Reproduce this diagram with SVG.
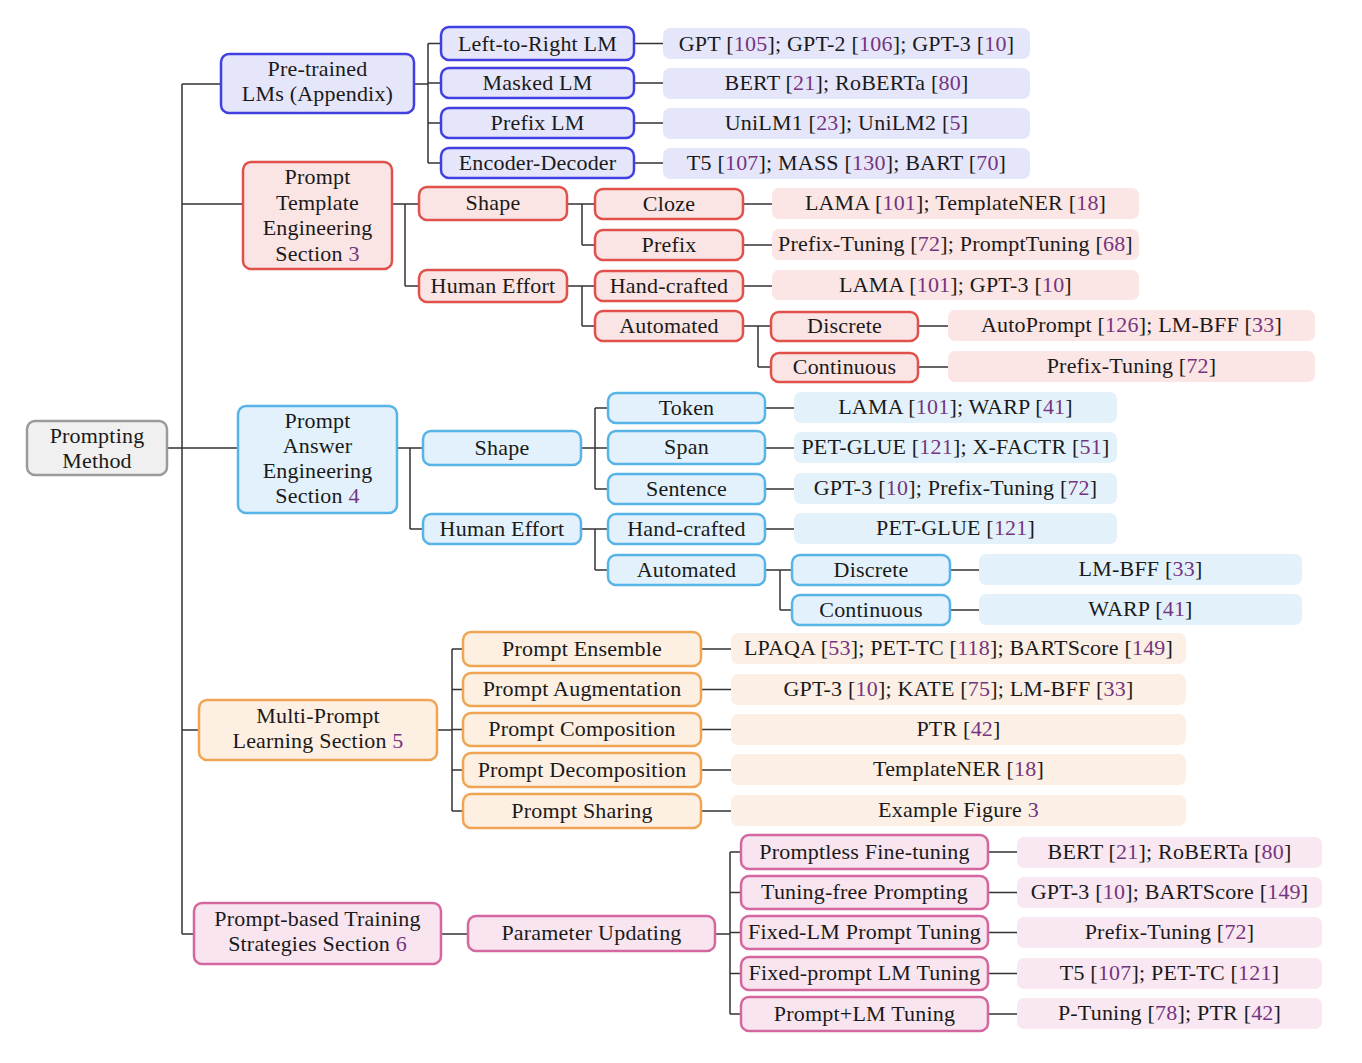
<svg xmlns="http://www.w3.org/2000/svg" width="1362" height="1063" viewBox="0 0 1362 1063">
  <style>
    text { font-family: "Liberation Serif", "DejaVu Serif", serif; font-size: 22px; letter-spacing: 0.2px; fill: #1a1a1a; text-anchor: middle; }
    .c { fill: #74357f; }
    .n { stroke-width: 2.5; }
    .gray { fill: #f0f0f0; stroke: #9a9a9a; }
    .pl { fill: #e6e6fa; stroke: #4040e0; }
    .pll { fill: #e6e6fa; }
    .te { fill: #fbe4e4; stroke: #e0514b; }
    .tel { fill: #fbe5e5; }
    .ae { fill: #e2f1fb; stroke: #58b4e6; }
    .ael { fill: #e3f1fb; }
    .mp { fill: #fdefe2; stroke: #f0a554; }
    .mpl { fill: #fcefe5; }
    .tr { fill: #f9e5f0; stroke: #d4679e; }
    .trl { fill: #f9e7f1; }
    .edges path { fill: none; stroke: #333; stroke-width: 1.5; }
  </style>

  <!-- tree connectors -->
  <g id="connectors" class="edges">
    <path d="M167 448H182M182 84V934M182 84H221M182 204H243M182 448H238M182 730H199M182 934H194"/>
    <!-- pre-trained LMs -->
    <path d="M414 84H428M428 43.5V163M428 43.5H441M428 83H441M428 123H441M428 163H441"/>
    <path d="M634 43.5H663M634 83H663M634 123H663M634 163H663"/>
    <!-- template engineering -->
    <path d="M392 204H405M405 204V286M405 204H419M405 286H419"/>
    <path d="M567 204H582M582 204V245M582 204H595M582 245H595"/>
    <path d="M567 286H582M582 286V326M582 286H595M582 326H595"/>
    <path d="M743 326H758M758 326V367M758 326H771M758 367H771"/>
    <path d="M743 204H772M743 245H772M743 286H772M918 326H948M918 367H948"/>
    <!-- answer engineering -->
    <path d="M397 448H410M410 448V529M410 448H423M410 529H423"/>
    <path d="M581 448H595M595 408V489M595 408H608M595 448H608M595 489H608"/>
    <path d="M581 529H595M595 529V570M595 529H608M595 570H608"/>
    <path d="M765 570H780M780 570V610M780 570H792M780 610H792"/>
    <path d="M765 408H794M765 448H794M765 489H794M765 529H794M950 570H979M950 610H979"/>
    <!-- multi-prompt learning -->
    <path d="M437 730H452M452 649V811M452 649H463M452 689.5H463M452 729.5H463M452 770H463M452 811H463"/>
    <path d="M701 649H731M701 689.5H731M701 729.5H731M701 770H731M701 811H731"/>
    <!-- training strategies -->
    <path d="M441 934H468M715 934H730M730 852V1014M730 852H741M730 892.5H741M730 932.5H741M730 973.5H741M730 1014H741"/>
    <path d="M988 852H1017M988 892.5H1017M988 932.5H1017M988 973.5H1017M988 1014H1017"/>
  </g>

  <!-- root -->
  <g id="root">
    <rect class="n gray" x="27" y="421" width="140" height="54" rx="8"/>
    <text x="97" y="443">Prompting</text>
    <text x="97" y="468">Method</text>
  </g>

  <!-- pre-trained LMs -->
  <g id="pretrained">
    <rect class="n pl" x="221" y="54" width="193" height="59" rx="8"/>
    <text x="317.5" y="76">Pre-trained</text>
    <text x="317.5" y="101">LMs (Appendix)</text>
  </g>
  <g id="l2r"><rect class="n pl" x="441" y="27" width="193" height="33" rx="8"/><text x="537.5" y="51">Left-to-Right LM</text></g>
  <g id="masked"><rect class="n pl" x="441" y="68" width="193" height="30" rx="8"/><text x="537.5" y="90">Masked LM</text></g>
  <g id="prefixlm"><rect class="n pl" x="441" y="108" width="193" height="30" rx="8"/><text x="537.5" y="130">Prefix LM</text></g>
  <g id="encdec"><rect class="n pl" x="441" y="148" width="193" height="30" rx="8"/><text x="537.5" y="170">Encoder-Decoder</text></g>
  <g id="l2r-refs"><rect class="pll" x="663" y="28" width="367" height="31" rx="7"/><text x="846.5" y="51">GPT [<tspan class="c">105</tspan>]; GPT-2 [<tspan class="c">106</tspan>]; GPT-3 [<tspan class="c">10</tspan>]</text></g>
  <g id="masked-refs"><rect class="pll" x="663" y="68" width="367" height="31" rx="7"/><text x="846.5" y="90">BERT [<tspan class="c">21</tspan>]; RoBERTa [<tspan class="c">80</tspan>]</text></g>
  <g id="prefixlm-refs"><rect class="pll" x="663" y="108" width="367" height="31" rx="7"/><text x="846.5" y="130">UniLM1 [<tspan class="c">23</tspan>]; UniLM2 [<tspan class="c">5</tspan>]</text></g>
  <g id="encdec-refs"><rect class="pll" x="663" y="148" width="367" height="31" rx="7"/><text x="846.5" y="170">T5 [<tspan class="c">107</tspan>]; MASS [<tspan class="c">130</tspan>]; BART [<tspan class="c">70</tspan>]</text></g>

  <!-- prompt template engineering -->
  <g id="template">
    <rect class="n te" x="243" y="162" width="149" height="107" rx="8"/>
    <text x="317.5" y="184">Prompt</text>
    <text x="317.5" y="209.5">Template</text>
    <text x="317.5" y="235">Engineering</text>
    <text x="317.5" y="260.5">Section <tspan class="c">3</tspan></text>
  </g>
  <g id="t-shape"><rect class="n te" x="419" y="187" width="148" height="33" rx="8"/><text x="493" y="210">Shape</text></g>
  <g id="t-human"><rect class="n te" x="419" y="270" width="148" height="32" rx="8"/><text x="493" y="293">Human Effort</text></g>
  <g id="t-cloze"><rect class="n te" x="595" y="189" width="148" height="30" rx="8"/><text x="669" y="211">Cloze</text></g>
  <g id="t-prefix"><rect class="n te" x="595" y="230" width="148" height="30" rx="8"/><text x="669" y="252">Prefix</text></g>
  <g id="t-hand"><rect class="n te" x="595" y="271" width="148" height="30" rx="8"/><text x="669" y="293">Hand-crafted</text></g>
  <g id="t-auto"><rect class="n te" x="595" y="311" width="148" height="30" rx="8"/><text x="669" y="333">Automated</text></g>
  <g id="t-discrete"><rect class="n te" x="771" y="312" width="147" height="29" rx="8"/><text x="844.5" y="333">Discrete</text></g>
  <g id="t-cont"><rect class="n te" x="771" y="353" width="147" height="29" rx="8"/><text x="844.5" y="374">Continuous</text></g>
  <g id="t-cloze-refs"><rect class="tel" x="772" y="188" width="367" height="31" rx="7"/><text x="955.5" y="210">LAMA [<tspan class="c">101</tspan>]; TemplateNER [<tspan class="c">18</tspan>]</text></g>
  <g id="t-prefix-refs"><rect class="tel" x="772" y="229" width="367" height="31" rx="7"/><text x="955.5" y="251">Prefix-Tuning [<tspan class="c">72</tspan>]; PromptTuning [<tspan class="c">68</tspan>]</text></g>
  <g id="t-hand-refs"><rect class="tel" x="772" y="270" width="367" height="30" rx="7"/><text x="955.5" y="292">LAMA [<tspan class="c">101</tspan>]; GPT-3 [<tspan class="c">10</tspan>]</text></g>
  <g id="t-discrete-refs"><rect class="tel" x="948" y="310" width="367" height="31" rx="7"/><text x="1131.5" y="332">AutoPrompt [<tspan class="c">126</tspan>]; LM-BFF [<tspan class="c">33</tspan>]</text></g>
  <g id="t-cont-refs"><rect class="tel" x="948" y="351" width="367" height="31" rx="7"/><text x="1131.5" y="373">Prefix-Tuning [<tspan class="c">72</tspan>]</text></g>

  <!-- prompt answer engineering -->
  <g id="answer">
    <rect class="n ae" x="238" y="406" width="159" height="107" rx="8"/>
    <text x="317.5" y="428">Prompt</text>
    <text x="317.5" y="453">Answer</text>
    <text x="317.5" y="478">Engineering</text>
    <text x="317.5" y="503">Section <tspan class="c">4</tspan></text>
  </g>
  <g id="a-shape"><rect class="n ae" x="423" y="431" width="158" height="34" rx="8"/><text x="502" y="455">Shape</text></g>
  <g id="a-human"><rect class="n ae" x="423" y="514" width="158" height="30" rx="8"/><text x="502" y="536">Human Effort</text></g>
  <g id="a-token"><rect class="n ae" x="608" y="393" width="157" height="30" rx="8"/><text x="686.5" y="415">Token</text></g>
  <g id="a-span"><rect class="n ae" x="608" y="431" width="157" height="33" rx="8"/><text x="686.5" y="454">Span</text></g>
  <g id="a-sentence"><rect class="n ae" x="608" y="474" width="157" height="30" rx="8"/><text x="686.5" y="496">Sentence</text></g>
  <g id="a-hand"><rect class="n ae" x="608" y="514" width="157" height="30" rx="8"/><text x="686.5" y="536">Hand-crafted</text></g>
  <g id="a-auto"><rect class="n ae" x="608" y="555" width="157" height="30" rx="8"/><text x="686.5" y="577">Automated</text></g>
  <g id="a-discrete"><rect class="n ae" x="792" y="555" width="158" height="30" rx="8"/><text x="871" y="577">Discrete</text></g>
  <g id="a-cont"><rect class="n ae" x="792" y="595" width="158" height="30" rx="8"/><text x="871" y="617">Continuous</text></g>
  <g id="a-token-refs"><rect class="ael" x="794" y="392" width="323" height="31" rx="7"/><text x="955.5" y="414">LAMA [<tspan class="c">101</tspan>]; WARP [<tspan class="c">41</tspan>]</text></g>
  <g id="a-span-refs"><rect class="ael" x="794" y="432" width="323" height="31" rx="7"/><text x="955.5" y="454">PET-GLUE [<tspan class="c">121</tspan>]; X-FACTR [<tspan class="c">51</tspan>]</text></g>
  <g id="a-sentence-refs"><rect class="ael" x="794" y="473" width="323" height="31" rx="7"/><text x="955.5" y="495">GPT-3 [<tspan class="c">10</tspan>]; Prefix-Tuning [<tspan class="c">72</tspan>]</text></g>
  <g id="a-hand-refs"><rect class="ael" x="794" y="513" width="323" height="31" rx="7"/><text x="955.5" y="535">PET-GLUE [<tspan class="c">121</tspan>]</text></g>
  <g id="a-discrete-refs"><rect class="ael" x="979" y="554" width="323" height="31" rx="7"/><text x="1140.5" y="576">LM-BFF [<tspan class="c">33</tspan>]</text></g>
  <g id="a-cont-refs"><rect class="ael" x="979" y="594" width="323" height="31" rx="7"/><text x="1140.5" y="616">WARP [<tspan class="c">41</tspan>]</text></g>

  <!-- multi-prompt learning -->
  <g id="multi">
    <rect class="n mp" x="199" y="700" width="238" height="60" rx="8"/>
    <text x="318" y="723">Multi-Prompt</text>
    <text x="318" y="748">Learning Section <tspan class="c">5</tspan></text>
  </g>
  <g id="m-ensemble"><rect class="n mp" x="463" y="632" width="238" height="34" rx="8"/><text x="582" y="656">Prompt Ensemble</text></g>
  <g id="m-aug"><rect class="n mp" x="463" y="673" width="238" height="33" rx="8"/><text x="582" y="696">Prompt Augmentation</text></g>
  <g id="m-comp"><rect class="n mp" x="463" y="713" width="238" height="33" rx="8"/><text x="582" y="736">Prompt Composition</text></g>
  <g id="m-decomp"><rect class="n mp" x="463" y="753" width="238" height="34" rx="8"/><text x="582" y="777">Prompt Decomposition</text></g>
  <g id="m-share"><rect class="n mp" x="463" y="794" width="238" height="34" rx="8"/><text x="582" y="818">Prompt Sharing</text></g>
  <g id="m-ensemble-refs"><rect class="mpl" x="731" y="633" width="455" height="31" rx="7"/><text x="958.5" y="655">LPAQA [<tspan class="c">53</tspan>]; PET-TC [<tspan class="c">118</tspan>]; BARTScore [<tspan class="c">149</tspan>]</text></g>
  <g id="m-aug-refs"><rect class="mpl" x="731" y="674" width="455" height="31" rx="7"/><text x="958.5" y="696">GPT-3 [<tspan class="c">10</tspan>]; KATE [<tspan class="c">75</tspan>]; LM-BFF [<tspan class="c">33</tspan>]</text></g>
  <g id="m-comp-refs"><rect class="mpl" x="731" y="714" width="455" height="31" rx="7"/><text x="958.5" y="736">PTR [<tspan class="c">42</tspan>]</text></g>
  <g id="m-decomp-refs"><rect class="mpl" x="731" y="754" width="455" height="31" rx="7"/><text x="958.5" y="776">TemplateNER [<tspan class="c">18</tspan>]</text></g>
  <g id="m-share-refs"><rect class="mpl" x="731" y="795" width="455" height="31" rx="7"/><text x="958.5" y="817">Example Figure <tspan class="c">3</tspan></text></g>

  <!-- prompt-based training strategies -->
  <g id="training">
    <rect class="n tr" x="194" y="903" width="247" height="61" rx="8"/>
    <text x="317.5" y="926">Prompt-based Training</text>
    <text x="317.5" y="951">Strategies Section <tspan class="c">6</tspan></text>
  </g>
  <g id="p-update"><rect class="n tr" x="468" y="916" width="247" height="35" rx="8"/><text x="591.5" y="940">Parameter Updating</text></g>
  <g id="p-promptless"><rect class="n tr" x="741" y="835" width="247" height="34" rx="8"/><text x="864.5" y="859">Promptless Fine-tuning</text></g>
  <g id="p-free"><rect class="n tr" x="741" y="876" width="247" height="33" rx="8"/><text x="864.5" y="899">Tuning-free Prompting</text></g>
  <g id="p-fixedlm"><rect class="n tr" x="741" y="916" width="247" height="33" rx="8"/><text x="864.5" y="939">Fixed-LM Prompt Tuning</text></g>
  <g id="p-fixedprompt"><rect class="n tr" x="741" y="957" width="247" height="33" rx="8"/><text x="864.5" y="980">Fixed-prompt LM Tuning</text></g>
  <g id="p-both"><rect class="n tr" x="741" y="997" width="247" height="34" rx="8"/><text x="864.5" y="1021">Prompt+LM Tuning</text></g>
  <g id="p-promptless-refs"><rect class="trl" x="1017" y="837" width="305" height="31" rx="7"/><text x="1169.5" y="859">BERT [<tspan class="c">21</tspan>]; RoBERTa [<tspan class="c">80</tspan>]</text></g>
  <g id="p-free-refs"><rect class="trl" x="1017" y="877" width="305" height="31" rx="7"/><text x="1169.5" y="899">GPT-3 [<tspan class="c">10</tspan>]; BARTScore [<tspan class="c">149</tspan>]</text></g>
  <g id="p-fixedlm-refs"><rect class="trl" x="1017" y="917" width="305" height="31" rx="7"/><text x="1169.5" y="939">Prefix-Tuning [<tspan class="c">72</tspan>]</text></g>
  <g id="p-fixedprompt-refs"><rect class="trl" x="1017" y="958" width="305" height="31" rx="7"/><text x="1169.5" y="980">T5 [<tspan class="c">107</tspan>]; PET-TC [<tspan class="c">121</tspan>]</text></g>
  <g id="p-both-refs"><rect class="trl" x="1017" y="998" width="305" height="31" rx="7"/><text x="1169.5" y="1020">P-Tuning [<tspan class="c">78</tspan>]; PTR [<tspan class="c">42</tspan>]</text></g>
</svg>
